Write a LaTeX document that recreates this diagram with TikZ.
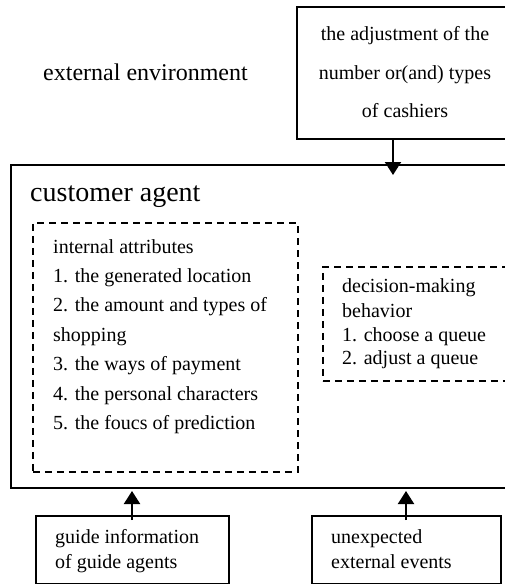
\documentclass[tikz,border=0pt]{standalone}
\usepackage{fontspec}
\setmainfont{Liberation Serif}
\usetikzlibrary{arrows.meta}
\begin{document}
\begin{tikzpicture}[x=1pt,y=-1pt,
  solidbox/.style={draw,line width=2pt,rectangle,inner sep=0pt,anchor=north west},
  dashbox/.style={draw,line width=1.8pt,dash pattern=on 7pt off 5pt,rectangle,inner sep=0pt,anchor=north west},
  txt/.style={inner sep=0pt,anchor=base west,font=\fontsize{20}{24}\selectfont},
  ctxt/.style={inner sep=0pt,anchor=base,font=\fontsize{20}{24}\selectfont},
  arr/.style={line width=2pt,-{Triangle[width=16pt,length=13pt]}}]
\useasboundingbox (0,0) rectangle (505,584);
\clip (0,0) rectangle (505,584);
\fill[white] (0,0) rectangle (505,584);
% boxes
\node[solidbox,minimum width=224pt,minimum height=132pt] (adj) at (296,6) {};
\node[solidbox,minimum width=530pt,minimum height=323pt] (agent) at (10,164) {};
\node[dashbox,minimum width=265pt,minimum height=249pt] (attr) at (32,222) {};
\node[dashbox,minimum width=210pt,minimum height=114pt] (dec) at (322,266) {};
\node[solidbox,minimum width=193pt,minimum height=68pt] (guide) at (35,515) {};
\node[solidbox,minimum width=189pt,minimum height=68pt] (unexp) at (311,515) {};
% texts
\node[inner sep=0pt,anchor=base west,font=\fontsize{24}{28}\selectfont] (env) at (43,80) {external environment};
\node[ctxt] (adj1) at (405,40) {the adjustment of the};
\node[ctxt] (adj2) at (405,79) {number or(and) types};
\node[ctxt] (adj3) at (405,117) {of cashiers};
\node[inner sep=0pt,anchor=base west,font=\fontsize{28}{32}\selectfont] (agentlbl) at (30,201) {customer agent};
\node[txt] (a0) at (53,253) {internal attributes};
\node[txt] (a1) at (53,282) {1. the generated location};
\node[txt] (a2) at (53,311.5) {2. the amount and types of};
\node[txt] (a3) at (53,341.5) {shopping};
\node[txt] (a4) at (53,370.5) {3. the ways of payment};
\node[txt] (a5) at (53,400) {4. the personal characters};
\node[txt] (a6) at (53,429) {5. the foucs of prediction};
\node[txt] (d0) at (342,292.5) {decision-making};
\node[txt] (d1) at (342,317) {behavior};
\node[txt] (d2) at (342,341) {1. choose a queue};
\node[txt] (d3) at (342,364.5) {2. adjust a queue};
\node[txt] (g1) at (55,543) {guide information};
\node[txt] (g2) at (55,568) {of guide agents};
\node[txt] (u1) at (331,543) {unexpected};
\node[txt] (u2) at (331,568) {external events};
% arrows
\coordinate (t1) at (393,175);
\coordinate (t2) at (132,491);
\coordinate (t3) at (406,491);
\draw[arr] (adj.south -| t1) -- (t1);
\draw[arr] ([yshift=-5pt]guide.north -| t2) -- (t2);
\draw[arr] ([yshift=-5pt]unexp.north -| t3) -- (t3);
\end{tikzpicture}
\end{document}
